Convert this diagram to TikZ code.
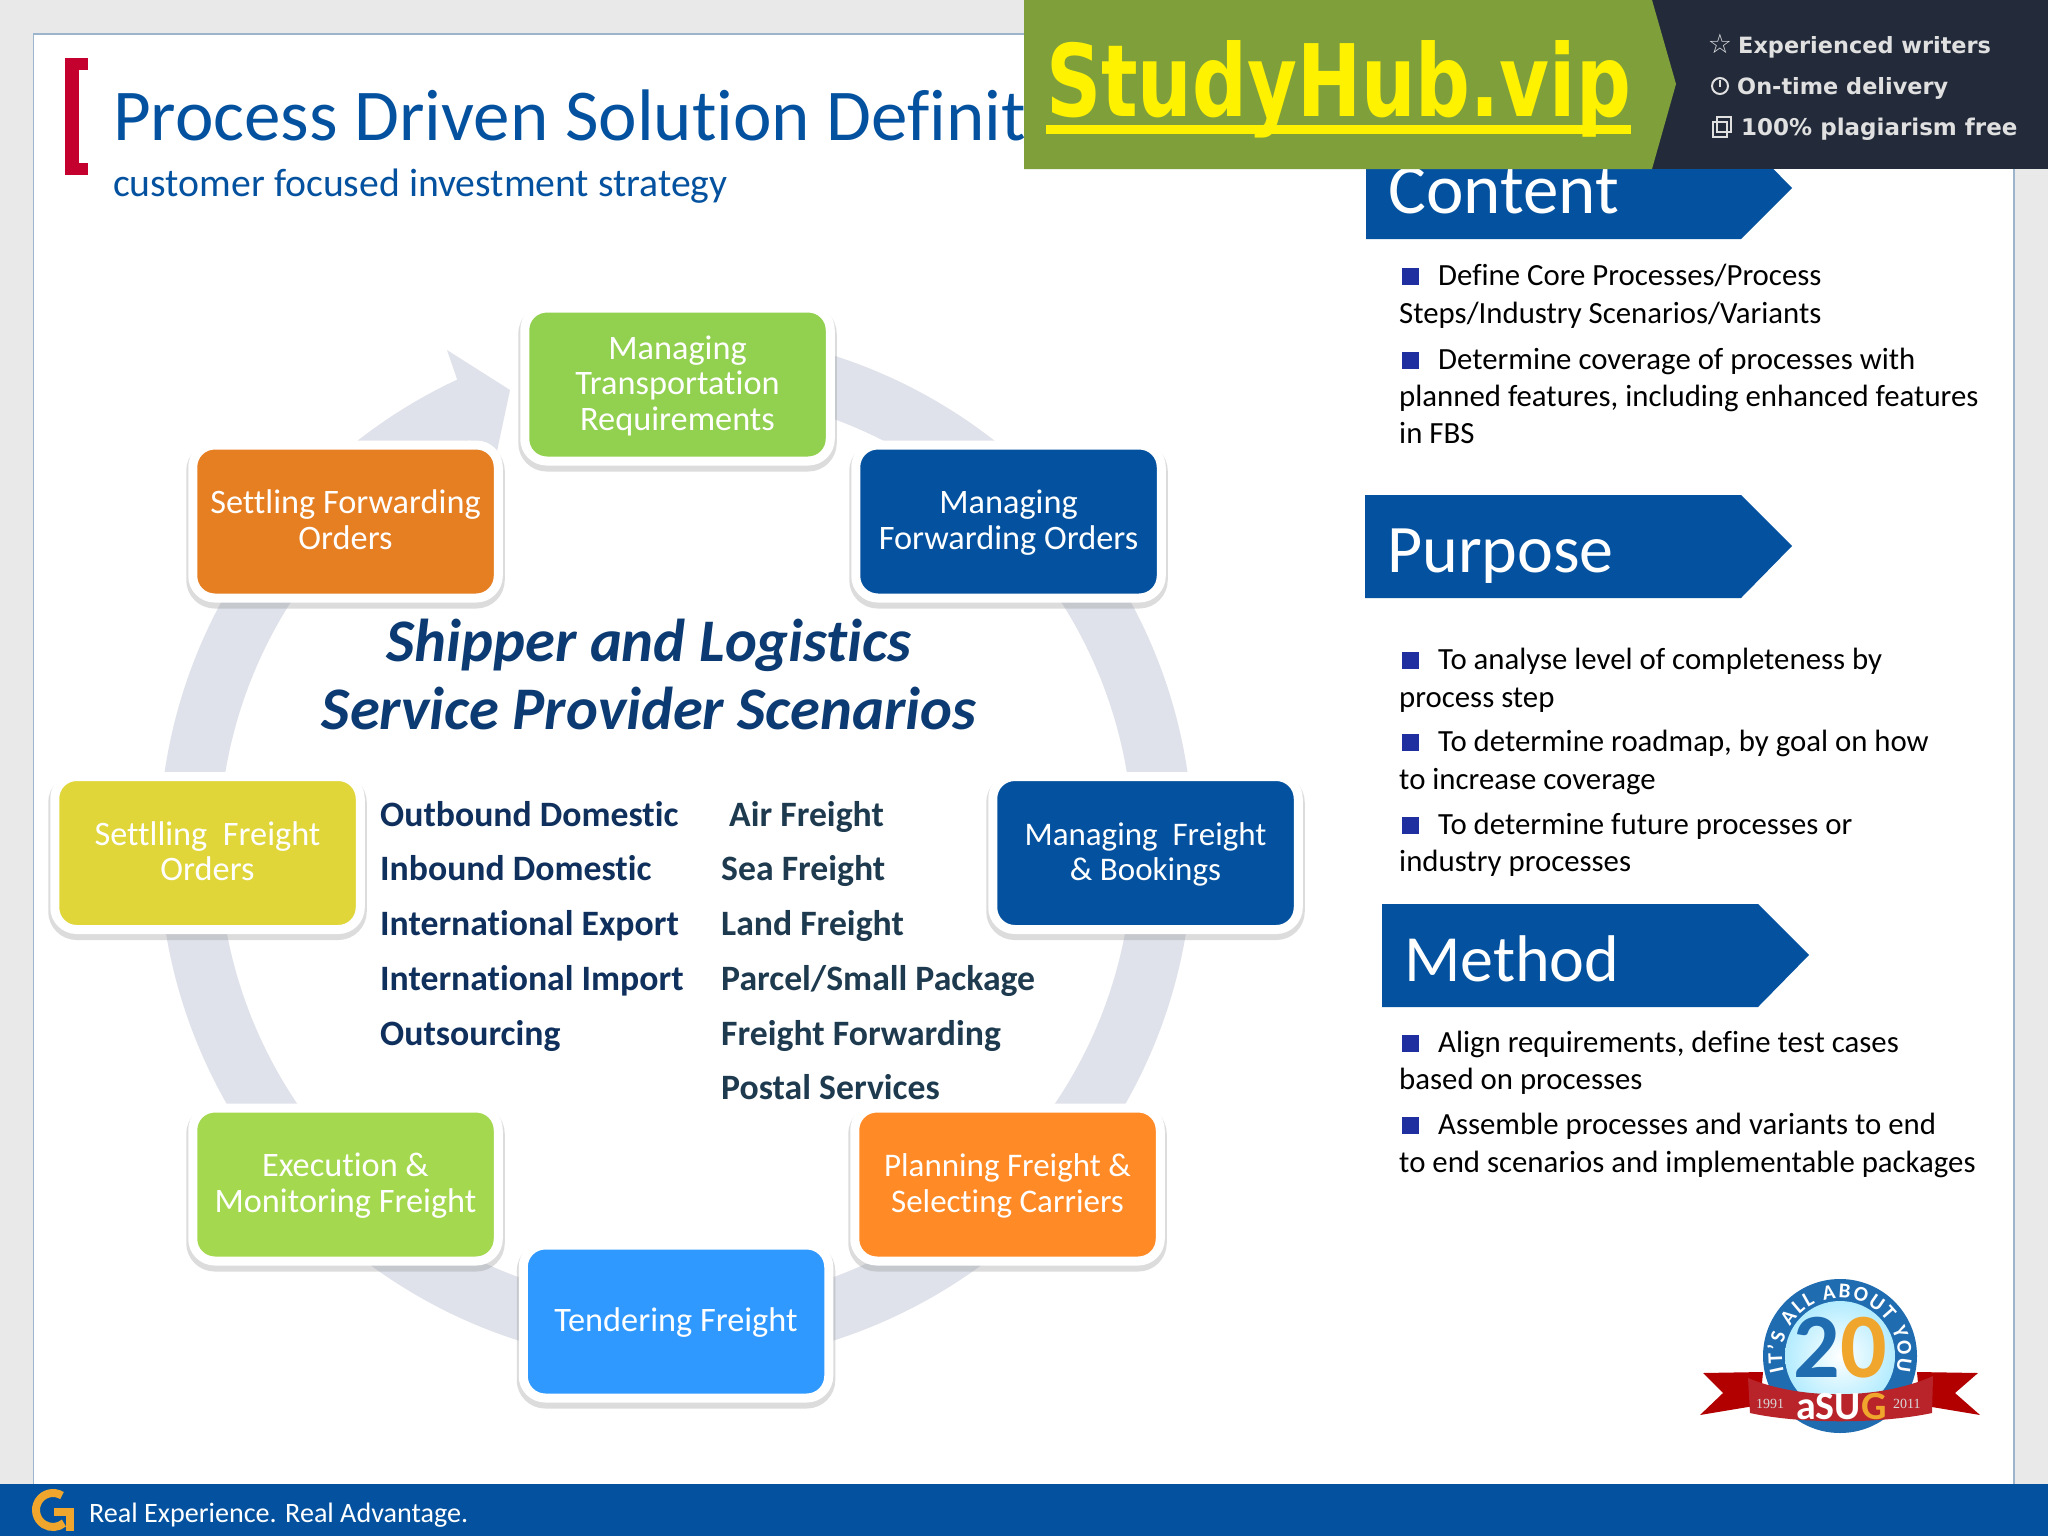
\documentclass[tikz,border=0pt]{standalone}
\usepackage{fontspec}
\usepackage{xcolor}
\usepackage{tikz}
\usetikzlibrary{arrows, shapes, decorations.text}
\setmainfont[Ligatures=NoCommon]{Carlito}
\newfontfamily\hubfont[FakeStretch=0.766]{DejaVu Sans}
\newfontfamily\tagfont{DejaVu Sans}
\newfontfamily\yearfont{Liberation Serif}
\newcommand{\boxtop}{\rule{0pt}{30pt}}
\newcommand{\boxbot}{\rule[-10pt]{0pt}{10pt}}
\definecolor{pagegray}{HTML}{E9E9E9}
\definecolor{framecol}{HTML}{9DB5CC}
\definecolor{sapblue}{HTML}{04529F}
\definecolor{ringcol}{HTML}{DFE2EA}
\definecolor{bracketred}{HTML}{C4002F}
\definecolor{headnavy}{HTML}{0B3B72}
\definecolor{listnavy}{HTML}{0F2F5C}
\definecolor{listslate}{HTML}{1E3A4F}
\definecolor{bulletblue}{HTML}{1F2FA0}
\definecolor{hubgreen}{HTML}{7F9F3B}
\definecolor{hubdark}{HTML}{232B3B}
\definecolor{hubyellow}{HTML}{FFF200}
\definecolor{boxlime}{HTML}{92D050}
\definecolor{boxorange}{HTML}{E67E22}
\definecolor{boxblue}{HTML}{04529F}
\definecolor{boxyellow}{HTML}{E0D63A}
\definecolor{boxgreen}{HTML}{A4D84E}
\definecolor{boxamber}{HTML}{FF8A26}
\definecolor{boxsky}{HTML}{2F99FF}
\definecolor{logoblue}{HTML}{1F6CB0}
\definecolor{logoorange}{HTML}{F0A52C}
\definecolor{logored}{HTML}{B8242A}

\begin{document}
\begin{tikzpicture}[x=1pt,y=-1pt]
		\tikzstyle{stepbox} = [rounded corners=22pt, draw=white, line width=9pt, minimum width=305.5pt, minimum height=153pt, align=center, text=white, font=\fontsize{34.3}{35.5}\selectfont, preaction={draw=black!45, opacity=0.3, line width=13pt, transform canvas={yshift=-4pt}}]
		\tikzstyle{arrowbox} = [fill=sapblue]
		\tikzstyle{arrowtext} = [anchor=base west, text=white, inner sep=0pt, font=\fontsize{71}{71}\selectfont]
		\tikzstyle{bodyline} = [anchor=base west, inner sep=0pt, font=\fontsize{30.8}{30.8}\selectfont]
		\tikzstyle{listline} = [anchor=base west, inner sep=0pt, font=\fontsize{35.7}{35.7}\selectfont\bfseries]
		\tikzstyle{headline} = [anchor=base, inner sep=0pt, text=headnavy, font=\fontsize{60.5}{60.5}\selectfont\bfseries\itshape]
		\tikzstyle{tagline} = [anchor=base west, inner sep=0pt, text=white!88!black, font=\tagfont\fontsize{22.4}{22.4}\selectfont\bfseries]
			\useasboundingbox (0,0) rectangle (2048,1536);
			\fill[pagegray] (0,0) rectangle (2048,1536);
			\path[draw=framecol,fill=white,line width=1.5pt] (33.5,34) rectangle (2014,1490);
			% circular arrow behind the boxes
			\coordinate (ringctr) at (676,848);
			\path[draw=ringcol,line width=60pt] (ringctr) ++(85:487pt) arc[start angle=85,end angle=-245,radius=487pt];
			\fill[ringcol] (447,350)--(510,390)--(493,470)--(470,441)--(457,379)--cycle;
			% title
			\fill[bracketred] (65,58) rectangle (88,70);
			\fill[bracketred] (65,58) rectangle (79,175);
			\fill[bracketred] (65,163) rectangle (88,175);
			\node[anchor=base west,inner sep=0pt,text=sapblue,font=\fontsize{73}{73}\selectfont] (title) at (113,141) {Process Driven Solution Definit};
			\node[anchor=base west,inner sep=0pt,text=sapblue,font=\fontsize{39.7}{39.7}\selectfont] (subtitle) at (113,196) {customer focused investment strategy};
			% process boxes
			\node[stepbox,fill=boxlime] (transport) at (677.5,384.5) {\boxtop Managing\\Transportation\\Requirements\boxbot};
			\node[stepbox,fill=boxorange] (settlefwd) at (345.5,521.5) {\boxtop Settling Forwarding\\Orders\boxbot};
			\node[stepbox,fill=boxblue] (managefwd) at (1008.5,521.5) {\boxtop Managing\\Forwarding Orders\boxbot};
			\node[stepbox,fill=boxyellow] (settlefrt) at (207.5,853) {\boxtop Settlling\ \ Freight\\Orders\boxbot};
			\node[stepbox,fill=boxblue,font=\fontsize{33}{35.5}\selectfont] (managefrt) at (1145.5,853) {\boxtop Managing\ \ Freight\\\& Bookings\boxbot};
			\node[stepbox,fill=boxgreen] (execution) at (345.5,1184.5) {\boxtop Execution \&\\Monitoring Freight\boxbot};
			\node[stepbox,fill=boxamber,font=\fontsize{33}{35.5}\selectfont] (planning) at (1007.5,1184.5) {\boxtop Planning Freight \&\\Selecting Carriers\boxbot};
			\node[stepbox,fill=boxsky] (tendering) at (676,1321.5) {\boxtop Tendering Freight\boxbot};
			% centre text
			\node[headline] (headA) at (649,661) {Shipper and Logistics};
			\node[headline] (headB) at (649,729) {Service Provider Scenarios};
			\node[listline,text=listnavy] (listA) at (380,826) {Outbound Domestic};
			\node[listline,text=listnavy] (listB) at (380,880) {Inbound Domestic};
			\node[listline,text=listnavy] (listC) at (380,935) {International Export};
			\node[listline,text=listnavy] (listD) at (380,990) {International Import};
			\node[listline,text=listnavy] (listE) at (380,1045) {Outsourcing};
			\node[listline,text=listslate] (modeA) at (729,826) {Air Freight};
			\node[listline,text=listslate] (modeB) at (721,880) {Sea Freight};
			\node[listline,text=listslate] (modeC) at (721,935) {Land Freight};
			\node[listline,text=listslate] (modeD) at (721,990) {Parcel/Small Package};
			\node[listline,text=listslate] (modeE) at (721,1045) {Freight Forwarding};
			\node[listline,text=listslate] (modeF) at (721,1099) {Postal Services};
			% right column
			\path[arrowbox] (1366,136)--(1741,136)--(1792,188)--(1741,239)--(1366,239)--cycle;
			\node[arrowtext] (content) at (1388,213) {Content};
			\path[arrowbox] (1365,495)--(1741,495)--(1792,546)--(1741,598)--(1365,598)--cycle;
			\node[arrowtext,font=\fontsize{68}{68}\selectfont] (purpose) at (1387,572) {Purpose};
			\path[arrowbox] (1382,904)--(1758,904)--(1809,955)--(1758,1007)--(1382,1007)--cycle;
			\node[arrowtext,font=\fontsize{66}{66}\selectfont] (method) at (1404,981) {Method};
			\fill[bulletblue] (1402,268) rectangle (1419,285);
			\node[bodyline] (contentA) at (1438,285) {Define Core Processes/Process};
			\node[bodyline] (contentB) at (1399,323) {Steps/Industry Scenarios/Variants};
			\fill[bulletblue] (1402,352) rectangle (1419,369);
			\node[bodyline] (contentC) at (1438,369) {Determine coverage of processes with};
			\node[bodyline] (contentD) at (1399,406) {planned features, including enhanced features};
			\node[bodyline] (contentE) at (1399,443) {in FBS};
			\fill[bulletblue] (1402,652) rectangle (1419,669);
			\node[bodyline] (purposeA) at (1438,669) {To analyse level of completeness by};
			\node[bodyline] (purposeB) at (1399,707) {process step};
			\fill[bulletblue] (1402,734) rectangle (1419,751);
			\node[bodyline] (purposeC) at (1438,751) {To determine roadmap, by goal on how};
			\node[bodyline] (purposeD) at (1399,789) {to increase coverage};
			\fill[bulletblue] (1402,817) rectangle (1419,834);
			\node[bodyline] (purposeE) at (1438,834) {To determine future processes or};
			\node[bodyline] (purposeF) at (1399,871) {industry processes};
			\fill[bulletblue] (1402,1035) rectangle (1419,1052);
			\node[bodyline] (methodA) at (1438,1052) {Align requirements, define test cases};
			\node[bodyline] (methodB) at (1399,1089) {based on processes};
			\fill[bulletblue] (1402,1117) rectangle (1419,1134);
			\node[bodyline] (methodC) at (1438,1134) {Assemble processes and variants to end};
			\node[bodyline] (methodD) at (1399,1172) {to end scenarios and implementable packages};
			% anniversary logo
			\coordinate (logoctr) at (1840,1356);
			\fill[red!70!black] (1763,1372)--(1703,1373)--(1723,1393)--(1700,1415)--(1760,1405)--cycle;
			\fill[red!70!black] (1917,1372)--(1978,1373)--(1955,1393)--(1980,1415)--(1920,1405)--cycle;
			\fill[logoblue] (logoctr) circle (77pt);
			\shade[inner color=white,outer color=blue!25!cyan!30] (logoctr) circle (55pt);
			\path[decorate,decoration={text along path,text align=fit to path,text={|\fontsize{21}{21}\selectfont\bfseries\color{white}|IT'S ALL ABOUT YOU}}] (logoctr) ++(195:58pt) arc[start angle=195,end angle=-15,radius=58pt];
			\node[anchor=base east,inner sep=0pt,text=logoblue,font=\fontsize{92}{92}\selectfont\bfseries] (logotwo) at (1840,1377) {2};
			\node[anchor=base west,inner sep=0pt,text=logoorange,font=\fontsize{92}{92}\selectfont\bfseries] (logozero) at (1840,1377) {0};
			\path[fill=logored] (1748,1378) .. controls (1800,1400) and (1880,1400) .. (1933,1376)--(1932,1413) .. controls (1880,1424) and (1800,1424) .. (1750,1413)--cycle;
			\node[anchor=base east,inner sep=0pt,text=white,font=\fontsize{40}{40}\selectfont\bfseries] (logoname) at (1861,1419) {aSU};
			\node[anchor=base west,inner sep=0pt,text=logoorange,font=\fontsize{40}{40}\selectfont\bfseries] (logog) at (1861,1419) {G};
			\node[anchor=base west,inner sep=0pt,text=white!85!black,font=\yearfont\fontsize{14}{14}\selectfont] (yearA) at (1756,1408) {1991};
			\node[anchor=base west,inner sep=0pt,text=white!85!black,font=\yearfont\fontsize{14}{14}\selectfont] (yearB) at (1893,1408) {2011};
			% footer
			\fill[sapblue] (0,1484) rectangle (2048,1536);
			\path[draw=logoorange,line width=8pt] (53,1510) ++(58:17pt) arc[start angle=58,end angle=310,radius=17pt];
			\fill[logoorange] (54,1508) rectangle (74,1516);
			\fill[logoorange] (66,1508) rectangle (74,1531);
			\node[anchor=base west,inner sep=0pt,text=white,font=\fontsize{28.1}{28.1}\selectfont] (motto) at (89,1522) {Real Experience. Real Advantage.};
			% banner on top
			\fill[hubdark] (1640,0) rectangle (2048,169);
			\fill[hubgreen] (1024,0)--(1652,0)--(1676,84)--(1652,169)--(1024,169)--cycle;
			\node[anchor=base west,inner sep=0pt,text=hubyellow,font=\hubfont\fontsize{100}{100}\selectfont\bfseries] (hubname) at (1046,117) {StudyHub.vip};
			\fill[hubyellow] (1046,125) rectangle (1631,134);
			\node[anchor=base,inner sep=0pt,text=white!88!black,font=\tagfont\fontsize{27}{27}\selectfont] (tagstar) at (1720,54) {☆};
			\node[tagline] (tagA) at (1738,53.5) {Experienced writers};
			\path[draw=white!88!black,line width=2pt] (1720,86) circle (8pt);
			\path[draw=white!88!black,line width=2pt] (1720,80) -- (1720,87);
			\node[tagline] (tagB) at (1737,94.5) {On-time delivery};
			\path[draw=white!88!black,line width=1.5pt] (1713,122) rectangle (1727,137);
			\path[draw=white!88!black,line width=1.5pt] (1717,117) rectangle (1731,132);
			\node[tagline,font=\tagfont\fontsize{23}{23}\selectfont\bfseries] (tagC) at (1741,135.5) {100\% plagiarism free};
		\end{tikzpicture}
\end{document}
